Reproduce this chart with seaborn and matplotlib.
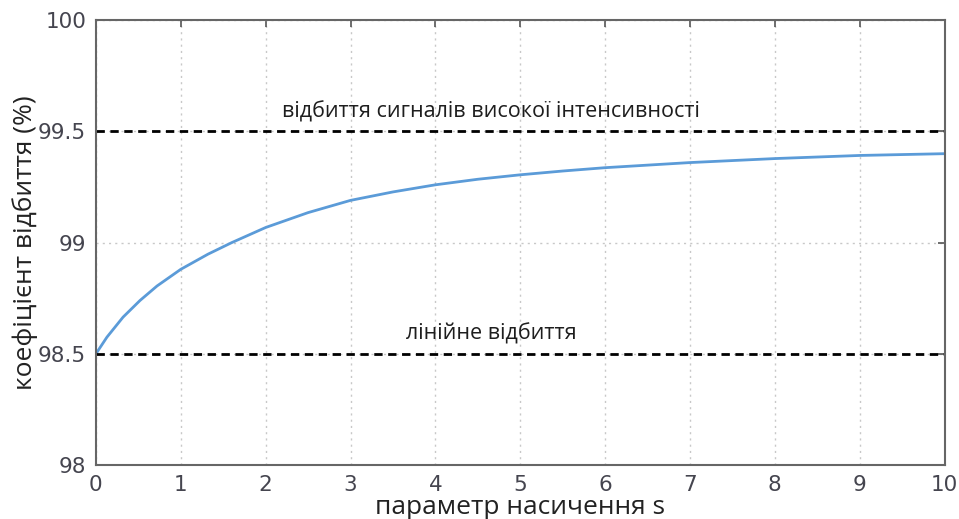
import numpy as np
import pandas as pd
import seaborn as sns
import matplotlib.pyplot as plt
from matplotlib.ticker import FuncFormatter

# дані
s_vals = [0, 0.13, 0.32, 0.52, 0.72, 1.0, 1.32, 1.6, 2.0, 2.5, 3.0, 3.5,
          4.0, 4.5, 5.0, 5.5, 6, 7, 8, 9, 10]
refl_vals = [98.50, 98.575, 98.665, 98.74, 98.805, 98.88, 98.948, 99.0, 99.068,
             99.135, 99.19, 99.228, 99.26, 99.285, 99.305, 99.322, 99.337,
             99.36, 99.378, 99.392, 99.40]
high_level = 99.5
linear_level = 98.5
high_label = "відбиття сигналів високої інтенсивності"
linear_label = "лінійне відбиття"
x_ticks = list(range(0, 11))
y_ticks = [98, 98.5, 99, 99.5, 100]

df = pd.DataFrame({"s": s_vals, "R": refl_vals})

sns.set_theme(style="white")
plt.rcParams['font.family'] = ['Open Sans', 'DejaVu Sans']

fig = plt.figure(figsize=(9.59, 5.19), dpi=100)
ax = fig.add_axes([0.100, 0.104, 0.885, 0.857])

sns.lineplot(data=df, x="s", y="R", ax=ax, color="#5b9bd8", linewidth=2)
ax.axhline(high_level, color="black", linestyle=(0, (3, 2)), linewidth=2)
ax.axhline(linear_level, color="black", linestyle=(0, (3, 2)), linewidth=2)

ax.text(4.66, 99.59, high_label, ha="center", va="center", fontsize=15.5,
        color="#1e1e1e")
ax.text(4.66, 98.59, linear_label, ha="center", va="center", fontsize=15.5,
        color="#1e1e1e")

ax.set_xlim(0, 10)
ax.set_ylim(98, 100)
ax.set_xticks(x_ticks)
ax.set_yticks(y_ticks)
ax.yaxis.set_major_formatter(FuncFormatter(lambda v, p: f"{v:g}"))
ax.grid(True, color="#c8c8c8", linestyle=(0, (1.5, 3)), linewidth=1)
ax.tick_params(direction="in", top=True, right=True, length=5, width=1.2,
               color="#555555", labelsize=15.5, labelcolor="#45454f", pad=7)
for lab in ax.get_xticklabels() + ax.get_yticklabels():
    lab.set_family("DejaVu Sans")
for sp in ax.spines.values():
    sp.set_color("#666666")
    sp.set_linewidth(1.5)

ax.set_xlabel("параметр насичення s", fontsize=19, color="#222222", labelpad=0)
ax.set_ylabel("коефіцієнт відбиття (%)", fontsize=19, color="#222222", labelpad=0)

plt.savefig("out.png", dpi=100)
